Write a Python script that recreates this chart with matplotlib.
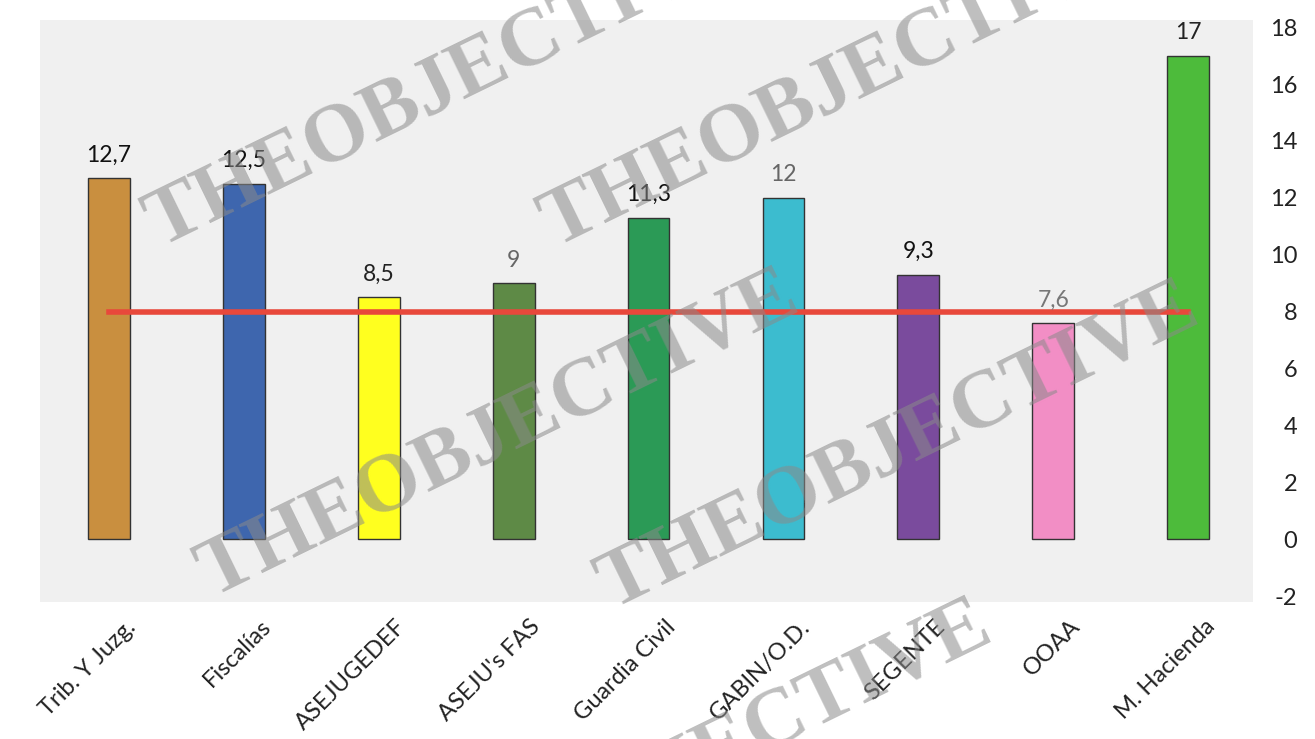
import matplotlib
matplotlib.use("Agg")
import matplotlib.pyplot as plt
import matplotlib.transforms as mtransforms

# data
categories = ["Trib. Y Juzg.", "Fiscalías", "ASEJUGEDEF", "ASEJU's FAS", "Guardia Civil",
              "GABIN/O.D.", "SEGENTE", "OOAA", "M. Hacienda"]
values = [12.7, 12.5, 8.5, 9, 11.3, 12, 9.3, 7.6, 17]
value_labels = ["12,7", "12,5", "8,5", "9", "11,3", "12", "9,3", "7,6", "17"]
average = [8] * len(categories)
yticks = [-2, 0, 2, 4, 6, 8, 10, 12, 14, 16, 18]

bar_colors = ["#c98f3f", "#3e66ae", "#ffff1f", "#5e8a46", "#2b9a56",
              "#3cbccf", "#7a4b9d", "#f28ec5", "#4dbb3b"]
label_colors = ["#111111", "#111111", "#222222", "#666666", "#111111",
                "#666666", "#111111", "#777777", "#222222"]

plt.rcParams['font.family'] = ['Lato', 'DejaVu Sans']

fig = plt.figure(figsize=(13.15, 7.39), dpi=100)
ax = fig.add_axes([40 / 1315, 1 - 602 / 739, 1213 / 1315, 582 / 739])
ax.set_facecolor("#f0f0f0")

x = list(range(len(categories)))
ax.bar(x, values, width=0.31, color=bar_colors, edgecolor="#333333", linewidth=1, zorder=2)
ax.plot(x, average, color="#e8483b", linewidth=4, zorder=3)

for xi, v, lab, c in zip(x, values, value_labels, label_colors):
    ax.annotate(lab, (xi, v), xytext=(0, 9), textcoords="offset points",
                ha="center", va="bottom", fontsize=16.5, color=c)

ax.set_xlim(-0.51, 8.48)
ax.set_ylim(-2.2, 18.25)
ax.set_yticks(yticks)
ax.set_yticklabels([str(t) for t in yticks], fontsize=17, color="#222222", ha="right")
ax.yaxis.tick_right()
ax.tick_params(axis="y", length=0, pad=32)

ax.set_xticks(x)
ax.set_xticklabels(categories, rotation=45, ha="right", rotation_mode="anchor",
                   fontsize=17, color="#222222")
ax.tick_params(axis="x", length=0, pad=10)
offset = mtransforms.ScaledTranslation(16 / 100, 0, fig.dpi_scale_trans)
for lbl in ax.get_xticklabels():
    lbl.set_transform(lbl.get_transform() + offset)

for s in ax.spines.values():
    s.set_visible(False)

# watermark text as it appears on the picture (baseline start, pixels from top-left)
marks = [(160, 248), (555, 248), (212, 598), (612, 610), (405, 928)]
for px, py in marks:
    fig.text(px / 1315, 1 - py / 739, "THEOBJECTIVE", rotation=26,
             rotation_mode="anchor", ha="left", va="baseline",
             fontsize=60, fontweight="bold", family="Liberation Serif",
             color="#8a8a8a", alpha=0.55, zorder=10)

fig.savefig("out.png", dpi=100)
